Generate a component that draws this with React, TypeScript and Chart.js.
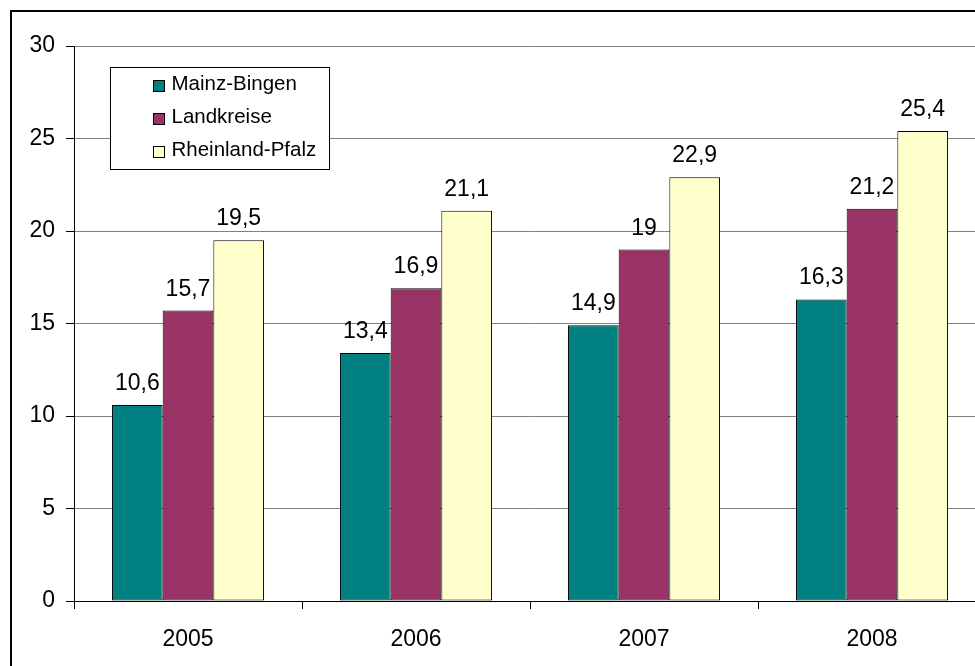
import React, { useEffect, useRef } from "react";
import { Chart, registerables } from "chart.js";

Chart.register(...registerables);

const years = ["2005", "2006", "2007", "2008"];
const mainzBingen = [10.6, 13.4, 14.9, 16.3];
const landkreise = [15.7, 16.9, 19, 21.2];
const rheinlandPfalz = [19.5, 21.1, 22.9, 25.4];
const seriesNames = ["Mainz-Bingen", "Landkreise", "Rheinland-Pfalz"];
const seriesColors = ["#008080", "#993366", "#FFFFCC"];
const yTicks = [0, 5, 10, 15, 20, 25, 30];

const FONT = "'Liberation Sans', Arial, sans-serif";
const W = 1000;
const H = 700;

const framePlugin = {
  id: "frame",
  afterDraw(chart: any) {
    const ctx = chart.ctx;
    ctx.save();
    ctx.strokeStyle = "#000";
    ctx.lineWidth = 2;
    ctx.strokeRect(11, 11, 3000, 3000);
    ctx.restore();
  },
};

const labelPlugin = {
  id: "barLabels",
  afterDatasetsDraw(chart: any) {
    const ctx = chart.ctx;
    ctx.save();
    ctx.font = `23px ${FONT}`;
    ctx.fillStyle = "#000";
    ctx.textAlign = "center";
    ctx.textBaseline = "alphabetic";
    chart.data.datasets.forEach((ds: any, i: number) => {
      const meta = chart.getDatasetMeta(i);
      meta.data.forEach((bar: any, j: number) => {
        const v = ds.data[j];
        ctx.fillText(String(v).replace(".", ","), bar.x, bar.y - 15);
      });
    });
    ctx.restore();
  },
};

const legendPlugin = {
  id: "boxLegend",
  afterDraw(chart: any) {
    const ctx = chart.ctx;
    const a = chart.chartArea;
    const bx = Math.round(a.left + 36) + 0.5;
    const by = Math.round(a.top + 21) + 0.5;
    const bw = 219;
    const bh = 102;
    ctx.save();
    ctx.fillStyle = "#fff";
    ctx.fillRect(bx, by, bw, bh);
    ctx.strokeStyle = "#000";
    ctx.lineWidth = 1;
    ctx.strokeRect(bx, by, bw, bh);
    ctx.font = `20.5px ${FONT}`;
    ctx.textAlign = "left";
    ctx.textBaseline = "middle";
    chart.data.datasets.forEach((ds: any, i: number) => {
      const cy = by + 17 + i * 33;
      const sx = bx + 43;
      ctx.fillStyle = ds.backgroundColor;
      ctx.fillRect(sx, Math.round(cy - 5) + 0.5, 11, 11);
      ctx.strokeStyle = "#000";
      ctx.strokeRect(sx, Math.round(cy - 5) + 0.5, 11, 11);
      ctx.fillStyle = "#000";
      ctx.fillText(ds.label, bx + 61, cy);
    });
    ctx.restore();
  },
};

export default function App() {
  const ref = useRef<HTMLCanvasElement | null>(null);
  useEffect(() => {
    if (!ref.current) return;
    const datasets = [mainzBingen, landkreise, rheinlandPfalz].map((d, i) => ({
      label: seriesNames[i],
      data: d,
      backgroundColor: seriesColors[i],
      borderColor: "#000",
      borderWidth: 1,
      borderSkipped: false,
      barPercentage: 1,
      categoryPercentage: 0.667,
    }));
    const chart = new Chart(ref.current, {
      type: "bar",
      data: { labels: years, datasets },
      options: {
        responsive: false,
        animation: false,
        devicePixelRatio: 1,
        layout: { padding: { left: 0, right: 14, top: 46, bottom: 0 } },
        plugins: {
          legend: { display: false },
          tooltip: { enabled: false },
        },
        scales: {
          x: {
            grid: {
              display: true,
              drawOnChartArea: false,
              drawTicks: true,
              tickLength: 8,
              tickColor: "#000",
              offset: true,
            },
            border: { display: true, color: "#000", width: 1 },
            ticks: {
              color: "#000",
              font: { family: FONT, size: 23 },
              padding: 17,
              maxRotation: 0,
            },
            afterFit(scale: any) {
              scale.height = H - 601;
            },
          },
          y: {
            min: 0,
            max: 30,
            afterBuildTicks(scale: any) {
              scale.ticks = yTicks.map((v) => ({ value: v }));
            },
            grid: {
              color: "#808080",
              lineWidth: 1,
              drawTicks: true,
              tickLength: 8,
              tickColor: "#000",
            },
            border: { display: true, color: "#000", width: 1 },
            ticks: {
              color: "#000",
              font: { family: FONT, size: 23 },
              padding: 11,
            },
            afterFit(scale: any) {
              scale.width = 74;
            },
          },
        },
      },
      plugins: [labelPlugin, legendPlugin, framePlugin],
    });
    return () => chart.destroy();
  }, []);
  return (
    <div
      style={{
        position: "fixed",
        left: 0,
        top: 0,
        width: 975,
        height: 666,
        overflow: "hidden",
        background: "#fff",
      }}
    >
      <canvas ref={ref} width={W} height={H} style={{ display: "block" }} />
    </div>
  );
}
